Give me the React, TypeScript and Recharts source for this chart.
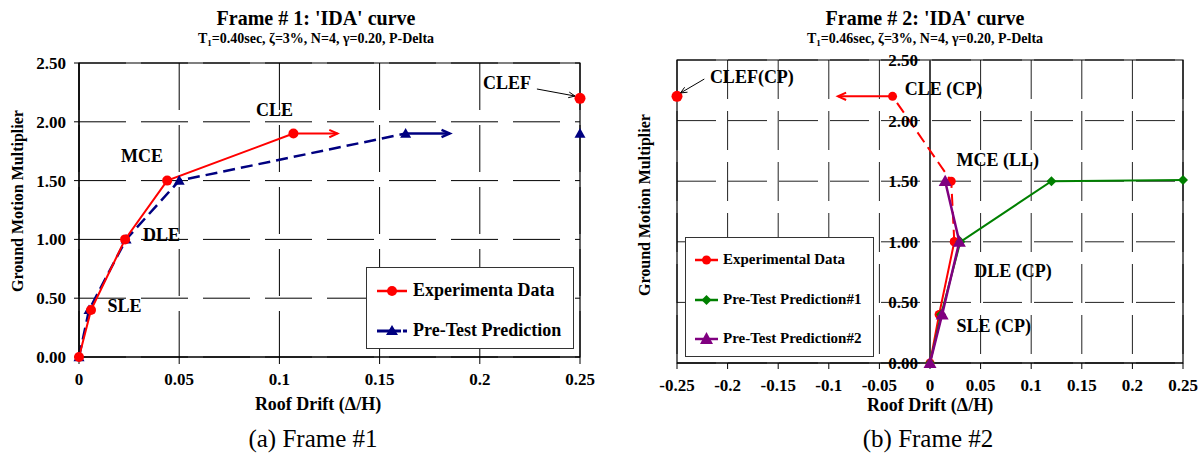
import React from 'react';
import {
  LineChart,
  Line,
  XAxis,
  YAxis,
  CartesianGrid,
  ReferenceArea,
  ReferenceDot,
  ReferenceLine,
  Legend,
} from 'recharts';

const FONT = '"Liberation Serif", "Times New Roman", Times, serif';

// ---------- shared ----------
const gmTicks = [0, 0.5, 1, 1.5, 2, 2.5];

// ---------- Frame #1 ----------
const f1DriftTicks = [0, 0.05, 0.1, 0.15, 0.2, 0.25];
const f1ExpDrift = [0, 0.006, 0.023, 0.044, 0.107];
const f1ExpGM = [0, 0.4, 1.0, 1.5, 1.9];
const f1PreDrift = [0, 0.005, 0.0235, 0.05, 0.163];
const f1PreGM = [0, 0.4, 1.0, 1.5, 1.9];
const f1ExpClefDrift = [0.25];
const f1ExpClefGM = [2.2];
const f1PreClefDrift = [0.25];
const f1PreClefGM = [1.9];
const f1ExpArrowDrift = [0.107, 0.129];
const f1ExpArrowGM = [1.9, 1.9];
const f1PreArrowDrift = [0.163, 0.185];
const f1PreArrowGM = [1.9, 1.9];

// ---------- Frame #2 ----------
const f2DriftTicks = [-0.25, -0.2, -0.15, -0.1, -0.05, 0, 0.05, 0.1, 0.15, 0.2, 0.25];
const f2ExpDrift = [0, 0.009, 0.024];
const f2ExpGM = [0, 0.4, 1.0];
const f2ExpUpperDrift = [0.024, 0.021, -0.037];
const f2ExpUpperGM = [1.0, 1.5, 2.2];
const f2ExpClefDrift = [-0.25];
const f2ExpClefGM = [2.2];
const f2Pre1Drift = [0, 0.011, 0.03, 0.12, 0.25];
const f2Pre1GM = [0, 0.4, 1.0, 1.5, 1.51];
const f2Pre2Drift = [0, 0.012, 0.029, 0.015];
const f2Pre2GM = [0, 0.4, 1.0, 1.5];
const f2ExpArrowDrift = [-0.037, -0.091];
const f2ExpArrowGM = [2.2, 2.2];

const zip = (xs: number[], ys: number[]) => xs.map((x, i) => ({ x, y: ys[i] }));

const RED = '#ff0000';
const NAVY = '#000080';
const GREEN = '#008000';
const PURPLE = '#800080';

// ---------- markers ----------
const circleDot = (color: string, r: number) => (p: any) =>
  p.cx == null ? <g key={p.key} /> : <circle key={p.key} cx={p.cx} cy={p.cy} r={r} fill={color} stroke="none" />;

const triangleDot = (color: string, s: number) => (p: any) =>
  p.cx == null ? (
    <g key={p.key} />
  ) : (
    <polygon
      key={p.key}
      points={`${p.cx},${p.cy - s} ${p.cx - s},${p.cy + s * 0.75} ${p.cx + s},${p.cy + s * 0.75}`}
      fill={color}
      stroke="none"
    />
  );

const diamondDot = (color: string, s: number) => (p: any) =>
  p.cx == null ? (
    <g key={p.key} />
  ) : (
    <polygon
      key={p.key}
      points={`${p.cx},${p.cy - s} ${p.cx + s},${p.cy} ${p.cx},${p.cy + s} ${p.cx - s},${p.cy}`}
      fill={color}
      stroke="none"
    />
  );

// arrow head drawn at the last point, oriented from the previous point
const arrowDot = (color: string, size: number, width: number) => {
  let prev = { cx: 0, cy: 0 };
  return (p: any) => {
    if (p.index === 0) {
      prev = { cx: p.cx, cy: p.cy };
      return <g key={p.key} />;
    }
    const ang = Math.atan2(p.cy - prev.cy, p.cx - prev.cx);
    const a1 = ang + Math.PI - 0.42;
    const a2 = ang + Math.PI + 0.42;
    const x1 = p.cx + size * Math.cos(a1);
    const y1 = p.cy + size * Math.sin(a1);
    const x2 = p.cx + size * Math.cos(a2);
    const y2 = p.cy + size * Math.sin(a2);
    return (
      <path
        key={p.key}
        d={`M${x1},${y1}L${p.cx},${p.cy}L${x2},${y2}`}
        stroke={color}
        strokeWidth={width}
        fill="none"
      />
    );
  };
};

const tickStyle = { fill: '#000', fontSize: 17, fontWeight: 'bold', fontFamily: FONT };
const annStyle = { fill: '#000', fontSize: 18, fontWeight: 'bold', fontFamily: FONT };

const noShape = () => <g />;

// ---------- legends ----------
const LegendLeft = () => (
  <div
    style={{
      width: 208,
      height: 82,
      boxSizing: 'border-box',
      border: '1px solid #333',
      background: '#fff',
      fontFamily: FONT,
      fontWeight: 'bold',
      fontSize: 18,
      position: 'relative',
      color: '#000',
    }}
  >
    <div style={{ position: 'absolute', left: 10, top: 12, display: 'flex', alignItems: 'center', whiteSpace: 'nowrap' }}>
      <svg width={32} height={16}>
        <line x1={0} y1={8} x2={30} y2={8} stroke={RED} strokeWidth={2.5} />
        <circle cx={15} cy={8} r={5} fill={RED} />
      </svg>
      <span style={{ marginLeft: 4 }}>Experimenta Data</span>
    </div>
    <div style={{ position: 'absolute', left: 10, top: 52, display: 'flex', alignItems: 'center', whiteSpace: 'nowrap' }}>
      <svg width={32} height={16}>
        <line x1={0} y1={8} x2={24} y2={8} stroke={NAVY} strokeWidth={3} />
        <line x1={26} y1={8} x2={30} y2={8} stroke={NAVY} strokeWidth={3} />
        <polygon points="15,2 9,12 21,12" fill={NAVY} />
      </svg>
      <span style={{ marginLeft: 4 }}>Pre-Test Prediction</span>
    </div>
  </div>
);

const LegendRight = () => (
  <div
    style={{
      width: 189,
      height: 120,
      boxSizing: 'border-box',
      border: '1px solid #333',
      background: '#fff',
      fontFamily: FONT,
      fontWeight: 'bold',
      fontSize: 15,
      position: 'relative',
      color: '#000',
    }}
  >
    {[
      { label: 'Experimental Data', color: RED, kind: 'c', top: 13 },
      { label: 'Pre-Test Prediction#1', color: GREEN, kind: 'd', top: 53 },
      { label: 'Pre-Test Prediction#2', color: PURPLE, kind: 't', top: 92 },
    ].map((e) => (
      <div
        key={e.label}
        style={{ position: 'absolute', left: 9, top: e.top, display: 'flex', alignItems: 'center', whiteSpace: 'nowrap' }}
      >
        <svg width={24} height={16}>
          <line x1={0} y1={8} x2={23} y2={8} stroke={e.color} strokeWidth={2.5} />
          {e.kind === 'c' && <circle cx={11.5} cy={8} r={4.5} fill={e.color} />}
          {e.kind === 'd' && <polygon points="11.5,3 16.5,8 11.5,13 6.5,8" fill={e.color} />}
          {e.kind === 't' && <polygon points="11.5,1 5,13 18,13" fill={e.color} />}
        </svg>
        <span style={{ marginLeft: 4 }}>{e.label}</span>
      </div>
    ))}
  </div>
);

// ---------- text helpers ----------
const Center = ({ x, y, size, bold, children }: any) => (
  <div
    style={{
      position: 'absolute',
      left: x,
      top: y,
      transform: 'translate(-50%, -50%)',
      whiteSpace: 'nowrap',
      fontFamily: FONT,
      fontSize: size,
      fontWeight: bold ? 'bold' : 'normal',
      color: '#000',
      lineHeight: 1,
    }}
  >
    {children}
  </div>
);

const VLabel = ({ x, y, size, children }: any) => (
  <div
    style={{
      position: 'absolute',
      left: x,
      top: y,
      transform: 'translate(-50%, -50%) rotate(-90deg)',
      whiteSpace: 'nowrap',
      fontFamily: FONT,
      fontSize: size,
      fontWeight: 'bold',
      color: '#000',
      lineHeight: 1,
    }}
  >
    {children}
  </div>
);

export default function App() {
  return (
    <div
      style={{
        position: 'absolute',
        left: 0,
        top: 0,
        width: 1202,
        height: 458,
        background: '#fff',
        overflow: 'hidden',
        fontFamily: FONT,
      }}
    >
      {/* ---------------- Frame #1 ---------------- */}
      <div style={{ position: 'absolute', left: 0, top: 0 }}>
        <LineChart width={600} height={458} margin={{ top: 63, right: 20, left: 29, bottom: 71 }}>
          <CartesianGrid stroke="#000" strokeDasharray="47 15" strokeWidth={1} />
          <XAxis
            type="number"
            dataKey="x"
            domain={[0, 0.25]}
            ticks={f1DriftTicks}
            height={30}
            tickSize={7}
            tickMargin={9}
            axisLine={{ stroke: '#000', strokeWidth: 1.2 }}
            tickLine={{ stroke: '#000' }}
            tick={tickStyle}
            interval={0}
          />
          <YAxis
            type="number"
            domain={[0, 2.5]}
            ticks={gmTicks}
            width={50}
            tickSize={5}
            tickMargin={8}
            axisLine={{ stroke: '#000', strokeWidth: 1.2 }}
            tickLine={{ stroke: '#000' }}
            tick={tickStyle}
            tickFormatter={(v: number) => v.toFixed(2)}
            interval={0}
          />
          <ReferenceArea x1={0} x2={0.25} y1={0} y2={2.5} fill="none" stroke="#000" strokeWidth={1.2} />

          <Line
            data={zip(f1PreDrift, f1PreGM)}
            dataKey="y"
            stroke={NAVY}
            strokeWidth={2.5}
            strokeDasharray="12 6"
            dot={triangleDot(NAVY, 5.5)}
            activeDot={false}
            isAnimationActive={false}
            legendType="none"
          />
          <Line
            data={zip(f1ExpDrift, f1ExpGM)}
            dataKey="y"
            stroke={RED}
            strokeWidth={2}
            dot={circleDot(RED, 5)}
            activeDot={false}
            isAnimationActive={false}
            legendType="none"
          />
          <Line
            data={zip(f1ExpClefDrift, f1ExpClefGM)}
            dataKey="y"
            stroke="none"
            dot={circleDot(RED, 5.5)}
            activeDot={false}
            isAnimationActive={false}
            legendType="none"
          />
          <Line
            data={zip(f1PreClefDrift, f1PreClefGM)}
            dataKey="y"
            stroke="none"
            dot={triangleDot(NAVY, 5.5)}
            activeDot={false}
            isAnimationActive={false}
            legendType="none"
          />
          <Line
            data={zip(f1ExpArrowDrift, f1ExpArrowGM)}
            dataKey="y"
            stroke={RED}
            strokeWidth={2}
            dot={arrowDot(RED, 9, 2)}
            activeDot={false}
            isAnimationActive={false}
            legendType="none"
          />
          <Line
            data={zip(f1PreArrowDrift, f1PreArrowGM)}
            dataKey="y"
            stroke={NAVY}
            strokeWidth={2.5}
            dot={arrowDot(NAVY, 9, 2.5)}
            activeDot={false}
            isAnimationActive={false}
            legendType="none"
          />
          {/* CLEF pointer */}
          <Line
            data={[
              { x: 0.2285, y: 2.279 },
              { x: 0.2475, y: 2.219 },
            ]}
            dataKey="y"
            stroke="#000"
            strokeWidth={1}
            dot={arrowDot('#000', 7, 1)}
            activeDot={false}
            isAnimationActive={false}
            legendType="none"
          />

          <ReferenceDot x={0.0976} y={2.1} r={0} shape={noShape} label={{ value: 'CLE', position: 'center', ...annStyle }} />
          <ReferenceDot x={0.0314} y={1.71} r={0} shape={noShape} label={{ value: 'MCE', position: 'center', ...annStyle }} />
          <ReferenceDot x={0.0412} y={1.04} r={0} shape={noShape} label={{ value: 'DLE', position: 'center', ...annStyle }} />
          <ReferenceDot x={0.0227} y={0.434} r={0} shape={noShape} label={{ value: 'SLE', position: 'center', ...annStyle }} />
          <ReferenceDot x={0.2136} y={2.33} r={0} shape={noShape} label={{ value: 'CLEF', position: 'center', ...annStyle }} />

          <Legend
            content={() => <LegendLeft />}
            layout="vertical"
            align="center"
            verticalAlign="middle"
            wrapperStyle={{ left: 366, top: 267, width: 208, height: 82 }}
          />
        </LineChart>
      </div>

      {/* ---------------- Frame #2 ---------------- */}
      <div style={{ position: 'absolute', left: 600, top: 0 }}>
        <LineChart width={602} height={458} margin={{ top: 60, right: 19, left: 77, bottom: 65 }}>
          <CartesianGrid stroke="#222" strokeDasharray="39 12" strokeWidth={1} />
          <XAxis
            type="number"
            dataKey="x"
            domain={[-0.25, 0.25]}
            ticks={f2DriftTicks}
            height={30}
            tickSize={6}
            tickMargin={10}
            axisLine={{ stroke: '#000', strokeWidth: 1.2 }}
            tickLine={{ stroke: '#000' }}
            tick={tickStyle}
            interval={0}
          />
          <YAxis type="number" domain={[0, 2.5]} ticks={gmTicks} hide />
          <ReferenceArea x1={-0.25} x2={0.25} y1={0} y2={2.5} fill="none" stroke="#000" strokeWidth={1.2} />
          <ReferenceLine x={0} stroke="#444" strokeWidth={2} />
          {gmTicks.map((v) => (
            <ReferenceDot
              key={`yt${v}`}
              x={0}
              y={v}
              r={0}
              shape={noShape}
              label={{ value: v.toFixed(2), position: 'left', offset: 12, ...tickStyle }}
            />
          ))}

          <Line
            data={zip(f2ExpUpperDrift, f2ExpUpperGM)}
            dataKey="y"
            stroke={RED}
            strokeWidth={2}
            strokeDasharray="12 6"
            dot={circleDot(RED, 4.5)}
            activeDot={false}
            isAnimationActive={false}
            legendType="none"
          />
          <Line
            data={zip(f2ExpDrift, f2ExpGM)}
            dataKey="y"
            stroke={RED}
            strokeWidth={2}
            dot={circleDot(RED, 4.5)}
            activeDot={false}
            isAnimationActive={false}
            legendType="none"
          />
          <Line
            data={zip(f2Pre1Drift, f2Pre1GM)}
            dataKey="y"
            stroke={GREEN}
            strokeWidth={2}
            dot={diamondDot(GREEN, 5)}
            activeDot={false}
            isAnimationActive={false}
            legendType="none"
          />
          <Line
            data={zip(f2Pre2Drift, f2Pre2GM)}
            dataKey="y"
            stroke={PURPLE}
            strokeWidth={2.5}
            dot={triangleDot(PURPLE, 6.5)}
            activeDot={false}
            isAnimationActive={false}
            legendType="none"
          />
          <Line
            data={zip(f2ExpClefDrift, f2ExpClefGM)}
            dataKey="y"
            stroke="none"
            dot={circleDot(RED, 5.5)}
            activeDot={false}
            isAnimationActive={false}
            legendType="none"
          />
          <Line
            data={zip(f2ExpArrowDrift, f2ExpArrowGM)}
            dataKey="y"
            stroke={RED}
            strokeWidth={2}
            dot={arrowDot(RED, 9, 2)}
            activeDot={false}
            isAnimationActive={false}
            legendType="none"
          />
          {/* CLEF(CP) pointer */}
          <Line
            data={[
              { x: -0.223, y: 2.343 },
              { x: -0.2465, y: 2.228 },
            ]}
            dataKey="y"
            stroke="#000"
            strokeWidth={1}
            dot={arrowDot('#000', 7, 1)}
            activeDot={false}
            isAnimationActive={false}
            legendType="none"
          />

          <ReferenceDot x={-0.176} y={2.36} r={0} shape={noShape} label={{ value: 'CLEF(CP)', position: 'center', ...annStyle }} />
          <ReferenceDot x={0.0134} y={2.26} r={0} shape={noShape} label={{ value: 'CLE (CP)', position: 'center', ...annStyle }} />
          <ReferenceDot x={0.067} y={1.675} r={0} shape={noShape} label={{ value: 'MCE (LL)', position: 'center', ...annStyle }} />
          <ReferenceDot x={0.082} y={0.76} r={0} shape={noShape} label={{ value: 'DLE (CP)', position: 'center', ...annStyle }} />
          <ReferenceDot x={0.063} y={0.305} r={0} shape={noShape} label={{ value: 'SLE (CP)', position: 'center', ...annStyle }} />

          <Legend
            content={() => <LegendRight />}
            layout="vertical"
            align="center"
            verticalAlign="middle"
            wrapperStyle={{ left: 85, top: 237, width: 189, height: 120 }}
          />
        </LineChart>
      </div>

      {/* ---------------- text ---------------- */}
      <Center x={316} y={18} size={20} bold>
        Frame # 1: 'IDA' curve
      </Center>
      <Center x={316} y={40} size={14} bold>
        T<sub style={{ fontSize: 9 }}>1</sub>=0.40sec, ζ=3%, N=4, γ=0.20, P-Delta
      </Center>
      <Center x={925} y={18} size={20} bold>
        Frame # 2: 'IDA' curve
      </Center>
      <Center x={925} y={40} size={14} bold>
        T<sub style={{ fontSize: 9 }}>1</sub>=0.46sec, ζ=3%, N=4, γ=0.20, P-Delta
      </Center>

      <VLabel x={18} y={201} size={16}>
        Ground Motion Multiplier
      </VLabel>
      <VLabel x={645} y={205} size={16}>
        Ground Motion Multiplier
      </VLabel>

      <Center x={318} y={404} size={18} bold>
        Roof Drift (Δ/H)
      </Center>
      <Center x={930} y={405} size={18} bold>
        Roof Drift (Δ/H)
      </Center>

      <Center x={313} y={438} size={25}>
        (a) Frame #1
      </Center>
      <Center x={928} y={438} size={25}>
        (b) Frame #2
      </Center>
    </div>
  );
}
